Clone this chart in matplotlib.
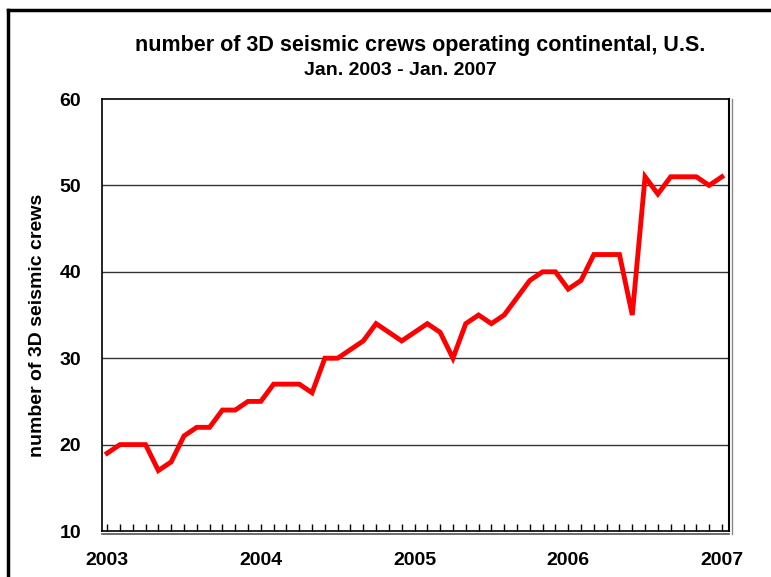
import matplotlib.pyplot as plt
from matplotlib.lines import Line2D

# monthly counts, Jan 2003 .. Jan 2007
crews = [19, 20, 20, 20, 17, 18, 21, 22, 22, 24, 24, 25,
         25, 27, 27, 27, 26, 30, 30, 31, 32, 34, 33, 32,
         33, 34, 33, 30, 34, 35, 34, 35, 37, 39, 40, 40,
         38, 39, 42, 42, 42, 35, 51, 49, 51, 51, 51, 50,
         51]
year_labels = ['2003', '2004', '2005', '2006', '2007']
y_ticks = [10, 20, 30, 40, 50, 60]

plt.rcParams['font.family'] = ['Liberation Sans', 'DejaVu Sans']
plt.rcParams['font.weight'] = 'bold'

fig = plt.figure(figsize=(7.71, 5.77), dpi=100)
ax = fig.add_axes([0.1323, 0.0797, 0.8132, 0.7487])

months = list(range(len(crews)))

# grid lines
for v in y_ticks[1:-1]:
    ax.axhline(v, color='#333333', lw=1, zorder=1)

ax.plot(months, crews, color='#ff0000', lw=3.5, solid_joinstyle='miter', zorder=3)

ax.set_xlim(-0.4, 48.55)
ax.set_ylim(10, 60)
ax.set_yticks(y_ticks)
ax.set_yticklabels([str(v) for v in y_ticks], fontsize=14, fontweight='bold')
ax.set_xticks(months, minor=True)
ax.set_xticks([0, 12, 24, 36, 48])
ax.set_xticklabels(year_labels, fontsize=14, fontweight='bold')
ax.tick_params(axis='y', length=0, pad=15)
ax.tick_params(axis='x', which='major', length=5, direction='in', pad=15, width=1)
ax.tick_params(axis='x', which='minor', length=5, direction='in', width=1)

for s in ax.spines.values():
    s.set_color('black')
    s.set_linewidth(1.2)
ax.spines['right'].set_linewidth(1.5)

# doubled lines at the bottom and right edge
ax.plot([0, 1], [-0.007, -0.007], transform=ax.transAxes, color='#555555',
        lw=1.2, clip_on=False)
ax.plot([1.005, 1.005], [-0.007, 1], transform=ax.transAxes, color='#888888',
        lw=1.0, clip_on=False)

ax.set_ylabel('number of 3D seismic crews', fontsize=14, fontweight='bold')
ax.yaxis.set_label_coords(-0.089, 0.476)

fig.text(0.545, 0.922, 'number of 3D seismic crews operating continental, U.S.',
         ha='center', va='center', fontsize=15.5, fontweight='bold')
fig.text(0.519, 0.877, 'Jan. 2003 - Jan. 2007', ha='center', va='center',
         fontsize=14, fontweight='bold')

# outer frame (top and left edges visible)
fig.add_artist(Line2D([0.0098, 1.0], [0.9819, 0.9819], color='black', lw=2.5))
fig.add_artist(Line2D([0.0098, 0.0098], [0.0, 0.9819], color='black', lw=2.5))

plt.savefig('out.png', dpi=100)
